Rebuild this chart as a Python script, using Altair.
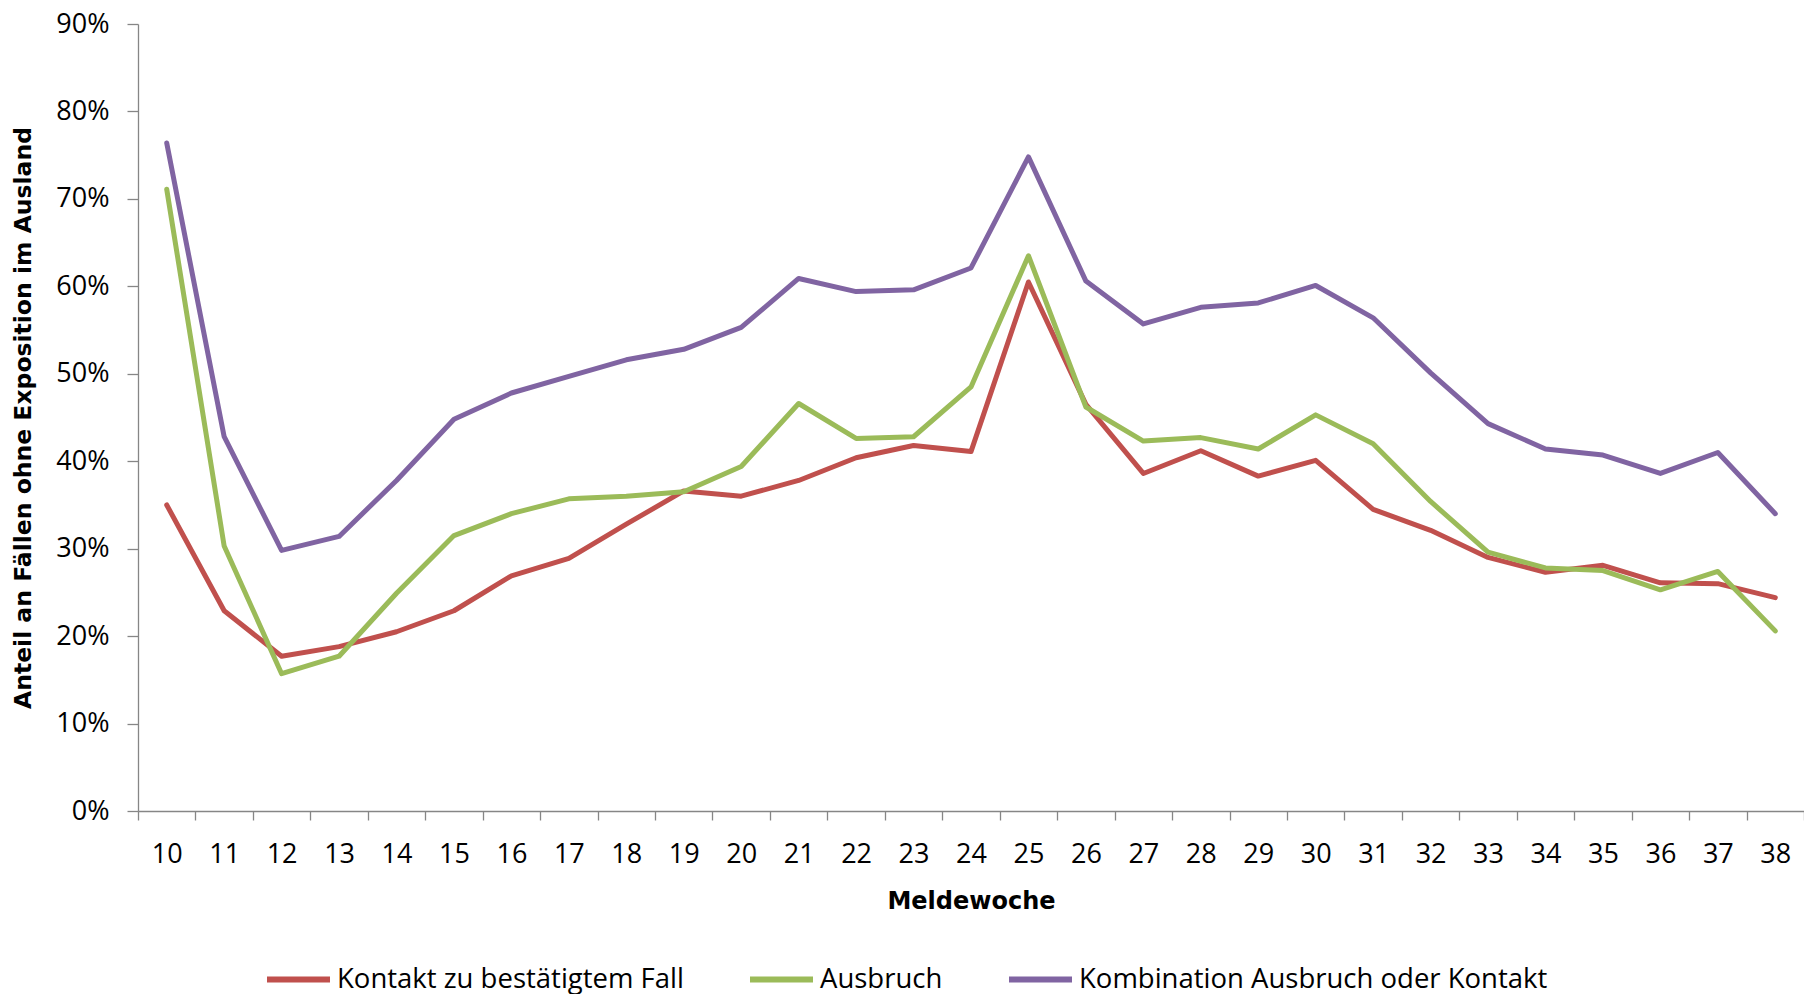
import altair as alt
import pandas as pd

weeks = list(range(10, 39))
series_names = [
    "Kontakt zu bestätigtem Fall",
    "Ausbruch",
    "Kombination Ausbruch oder Kontakt",
]
kontakt = [35.0, 22.9, 17.7, 18.8, 20.5, 22.9, 26.9, 28.9, 32.8, 36.6,
           36.0, 37.8, 40.4, 41.8, 41.1, 60.5, 46.5, 38.6, 41.2, 38.3,
           40.1, 34.5, 32.1, 29.0, 27.3, 28.1, 26.1, 26.0, 24.4]
ausbruch = [71.1, 30.3, 15.7, 17.7, 24.9, 31.5, 34.0, 35.7, 36.0, 36.5,
            39.4, 46.6, 42.6, 42.8, 48.5, 63.5, 46.2, 42.3, 42.7, 41.4,
            45.3, 42.0, 35.4, 29.6, 27.8, 27.5, 25.3, 27.4, 20.6]
kombination = [76.4, 42.8, 29.8, 31.4, 37.8, 44.8, 47.8, 49.7, 51.6, 52.8,
               55.3, 60.9, 59.4, 59.6, 62.1, 74.8, 60.6, 55.7, 57.6, 58.1,
               60.1, 56.4, 50.1, 44.3, 41.4, 40.7, 38.6, 41.0, 34.0]
colors = ["#C0504D", "#9BBB59", "#8064A2"]
y_ticks = [0.0, 0.1, 0.2, 0.3, 0.4, 0.5, 0.6, 0.7, 0.8, 0.9]

rows = []
for name, vals in zip(series_names, [kontakt, ausbruch, kombination]):
    for w, v in zip(weeks, vals):
        rows.append({"Meldewoche": w, "Serie": name, "Anteil": v / 100.0})
df = pd.DataFrame(rows)

axis_gray = "#868686"

chart = (
    alt.Chart(df)
    .mark_line(strokeWidth=5, strokeJoin="round", strokeCap="round")
    .encode(
        x=alt.X(
            "Meldewoche:O",
            bandPosition=0.5,
            scale=alt.Scale(type="band", paddingInner=0, paddingOuter=0),
            axis=alt.Axis(
                title="Meldewoche",
                labelAngle=0,
                tickBand="extent",
                tickSize=9,
                tickColor=axis_gray,
                domainColor=axis_gray,
                domainWidth=1.3,
                tickWidth=1.3,
                labelFont="Open Sans",
                labelFontSize=27,
                labelColor="#000000",
                labelPadding=21,
                titleFont="DejaVu Sans",
                titleFontWeight="bold",
                titleFontSize=24,
                titleColor="#000000",
                titlePadding=22,
                grid=False,
            ),
        ),
        y=alt.Y(
            "Anteil:Q",
            scale=alt.Scale(domain=[0, 0.9], nice=False),
            axis=alt.Axis(
                title="Anteil an Fällen ohne Exposition im Ausland",
                values=y_ticks,
                format=".0%",
                tickSize=11,
                tickColor=axis_gray,
                domainColor=axis_gray,
                domainWidth=1.3,
                tickWidth=1.3,
                labelFont="Open Sans",
                labelFontSize=27,
                labelColor="#000000",
                labelPadding=18,
                titleFont="DejaVu Sans",
                titleFontWeight="bold",
                titleFontSize=23.5,
                titleColor="#000000",
                titlePadding=20,
                grid=False,
            ),
        ),
        color=alt.Color(
            "Serie:N",
            scale=alt.Scale(domain=series_names, range=colors),
            sort=series_names,
            legend=alt.Legend(
                title=None,
                orient="none",
                legendX=126,
                legendY=921,
                direction="horizontal",
                symbolType="stroke",
                symbolSize=3969,
                symbolStrokeWidth=6,
                labelFont="Open Sans",
                labelFontSize=27.5,
                labelColor="#000000",
                labelLimit=900,
                labelOffset=4,
                columnPadding=54,
            ),
        ),
    )
    .properties(
        width=1666,
        height=787,
        autosize=alt.AutoSizeParams(type="none"),
        padding={"left": 130, "top": 16, "right": 0, "bottom": 183},
        background="white",
    )
    .configure_view(stroke=None)
)

chart.save("out.html", embed_options={"renderer": "svg", "actions": False})
